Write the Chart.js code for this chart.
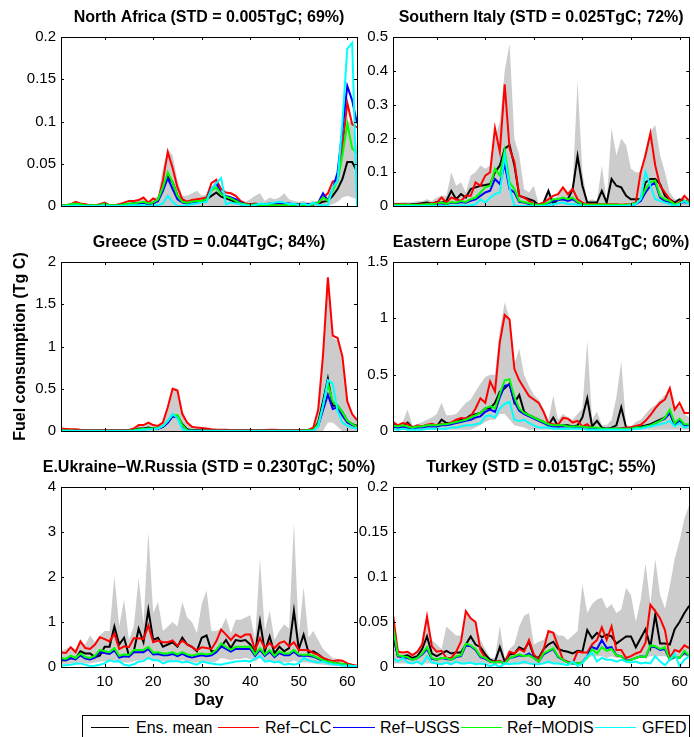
<!DOCTYPE html>
<html>
<head>
<meta charset="utf-8">
<title>Fuel consumption by region</title>
<script src="https://cdn.jsdelivr.net/npm/chart.js@4.4.1/dist/chart.umd.min.js"></script>
<style>
  body { margin: 0; background: #fff; width: 694px; height: 737px; overflow: hidden; position: relative;
         font-family: "Liberation Sans", Arial, Helvetica, sans-serif; }
  canvas { position: absolute; }
  #legend { position: absolute; left: 82px; top: 715px; width: 608px; height: 40px; border: 1px solid #000; box-sizing: border-box; background: #fff; }
  #legend .ln { position: absolute; top: 11px; height: 1px; }
  #legend .lt { position: absolute; top: 3px; font-size: 16px; line-height: 18px; color: #000; white-space: nowrap; }
</style>
</head>
<body>
<canvas id="na" width="390" height="220" style="left:0;top:0"></canvas>
<canvas id="gr" width="390" height="220" style="left:0;top:225px"></canvas>
<canvas id="ur" width="390" height="260" style="left:0;top:450px"></canvas>
<canvas id="si" width="349" height="220" style="left:345px;top:0"></canvas>
<canvas id="ee" width="349" height="220" style="left:345px;top:225px"></canvas>
<canvas id="tk" width="349" height="260" style="left:345px;top:450px"></canvas>

<div id="legend">
  <span class="ln" style="left:8px;width:38px;background:#000000"></span><span class="lt" style="left:53px">Ens. mean</span>
  <span class="ln" style="left:135px;width:41px;background:#ff0000"></span><span class="lt" style="left:182px">Ref−CLC</span>
  <span class="ln" style="left:250px;width:42px;background:#0000ff"></span><span class="lt" style="left:297px">Ref−USGS</span>
  <span class="ln" style="left:378px;width:41px;background:#00ff00"></span><span class="lt" style="left:424px">Ref−MODIS</span>
  <span class="ln" style="left:512px;width:41px;background:#00ffff"></span><span class="lt" style="left:559px">GFED</span>
</div>

<script>
// days of the simulation
const days = [1,2,3,4,5,6,7,8,9,10,11,12,13,14,15,16,17,18,19,20,21,22,23,24,25,26,27,28,29,30,
  31,32,33,34,35,36,37,38,39,40,41,42,43,44,45,46,47,48,49,50,51,52,53,54,55,56,57,58,59,60,61,62];
const xTicks = [10, 20, 30, 40, 50, 60];

// North Africa
const naBlack = [0.001,0.001,0.001,0.002,0.002,0.001,0.001,0.001,0.001,0.002,
  0.001,0.001,0.001,0.002,0.002,0.003,0.003,0.004,0.002,0.004,
  0.008,0.02,0.035,0.028,0.012,0.006,0.005,0.005,0.006,0.006,
  0.008,0.012,0.016,0.011,0.009,0.007,0.004,0.002,0.002,0.002,
  0.002,0.002,0.002,0.002,0.002,0.002,0.003,0.002,0.002,0.002,
  0.002,0.002,0.002,0.003,0.005,0.006,0.012,0.02,0.032,0.052,
  0.052,0.041];
const naRed = [0.001,0.001,0.002,0.005,0.003,0.002,0.001,0.001,0.002,0.004,
  0.001,0.001,0.002,0.004,0.006,0.006,0.007,0.01,0.004,0.009,
  0.006,0.03,0.064,0.045,0.022,0.008,0.005,0.007,0.008,0.009,
  0.01,0.027,0.031,0.02,0.016,0.015,0.012,0.006,0.003,0.002,
  0.003,0.002,0.002,0.002,0.001,0.002,0.002,0.002,0.001,0.002,
  0.002,0.002,0.002,0.003,0.01,0.015,0.029,0.03,0.07,0.122,
  0.097,0.093];
const naBlue = [0,0,0.001,0.002,0.001,0.001,0,0,0.001,0.002,
  0,0,0.001,0.002,0.002,0.003,0.003,0.004,0.002,0.003,
  0.006,0.018,0.033,0.02,0.008,0.004,0.003,0.004,0.005,0.005,
  0.008,0.02,0.027,0.015,0.012,0.01,0.008,0.004,0.002,0.001,
  0.002,0.001,0.002,0.003,0.003,0.004,0.003,0.003,0.002,0.002,
  0.002,0.002,0.002,0.004,0.015,0.006,0.02,0.04,0.09,0.142,
  0.125,0.098];
const naGreen = [0.001,0.001,0.002,0.003,0.002,0.001,0.001,0.001,0.001,0.003,
  0.001,0.001,0.001,0.002,0.003,0.003,0.004,0.005,0.003,0.004,
  0.008,0.022,0.04,0.028,0.012,0.005,0.004,0.005,0.006,0.006,
  0.008,0.018,0.022,0.014,0.011,0.009,0.006,0.003,0.002,0.001,
  0.002,0.001,0.001,0.001,0.001,0.001,0.001,0.001,0.001,0.002,
  0.001,0.001,0.002,0.004,0.01,0.006,0.018,0.03,0.06,0.098,
  0.068,0.063];
const naCyan = [0,0,0,0.001,0,0,0,0,0,0.001,
  0,0,0,0,0.001,0.001,0.001,0.001,0,0.001,
  0.001,0.003,0.012,0.005,0,0,0.001,0.002,0.003,0.004,
  0.005,0.02,0.027,0.033,0.002,0.004,0.003,0.002,0.001,0,
  0.001,0.003,0.002,0.003,0.004,0.005,0.004,0.002,0.003,0.001,
  0.003,0.001,0.004,0.001,0.001,0.001,0.022,0.03,0.1,0.186,
  0.193,0];
const naMax = [0.002,0.002,0.003,0.005,0.003,0.002,0.002,0.002,0.002,0.004,
  0.002,0.002,0.002,0.004,0.006,0.006,0.007,0.01,0.005,0.009,
  0.012,0.045,0.067,0.06,0.03,0.012,0.012,0.015,0.018,0.012,
  0.014,0.02,0.025,0.018,0.013,0.012,0.008,0.006,0.005,0.008,
  0.012,0.015,0.006,0.01,0.008,0.01,0.015,0.008,0.006,0.005,
  0.006,0.004,0.006,0.006,0.012,0.012,0.025,0.035,0.06,0.1,
  0.1,0.07];
const naMin = [0,0,0,0,0,0,0,0,0,0, 0,0,0,0,0,0,0,0,0,0, 0,0,0,0,0,0,0,0,0,0,
  0,0,0,0,0,0,0,0,0,0, 0,0,0,0,0,0,0,0,0,0,
  0,0,0,0,0,0,0.002,0.005,0.01,0.012,
  0.01,0.008];

// Southern Italy
const siBlack = [0.005,0.006,0.005,0.004,0.005,0.006,0.008,0.01,0.007,0.012,
  0.01,0.015,0.045,0.02,0.035,0.025,0.05,0.055,0.06,0.062,
  0.065,0.1,0.12,0.17,0.18,0.12,0.03,0.025,0.02,0.015,
  0.002,0.01,0.045,0.005,0.02,0.02,0.02,0.05,0.148,0.06,
  0.01,0.01,0.01,0.045,0.01,0.08,0.06,0.055,0.03,0.02,
  0.02,0.02,0.07,0.08,0.08,0.065,0.03,0.02,0.01,0.02,
  0.015,0.01];
const siRed = [0.005,0.005,0.006,0.004,0.003,0.004,0.005,0.006,0.008,0.01,
  0.025,0.01,0.025,0.02,0.015,0.03,0.03,0.07,0.06,0.09,
  0.1,0.23,0.16,0.36,0.17,0.13,0.03,0.025,0.015,0.005,
  0.005,0.01,0.02,0.03,0.035,0.055,0.035,0.05,0.02,0.01,
  0.005,0.005,0.006,0.006,0.005,0.005,0.005,0.004,0.005,0.005,
  0.01,0.1,0.15,0.215,0.12,0.06,0.04,0.02,0.005,0.01,
  0.03,0.015];
const siBlue = [0.003,0.003,0.003,0.002,0.002,0.003,0.003,0.004,0.004,0.006,
  0.008,0.005,0.01,0.008,0.012,0.01,0.015,0.02,0.03,0.04,
  0.045,0.08,0.065,0.125,0.05,0.04,0.012,0.01,0.006,0.004,
  0.002,0.004,0.008,0.015,0.018,0.02,0.015,0.02,0.01,0.005,
  0.003,0.003,0.003,0.004,0.003,0.003,0.003,0.003,0.003,0.004,
  0.006,0.015,0.04,0.06,0.07,0.025,0.015,0.012,0.004,0.006,
  0.012,0.008];
const siGreen = [0.004,0.004,0.004,0.003,0.003,0.003,0.004,0.005,0.005,0.007,
  0.01,0.006,0.012,0.01,0.015,0.012,0.02,0.025,0.04,0.055,
  0.06,0.11,0.09,0.165,0.07,0.05,0.015,0.012,0.008,0.005,
  0.003,0.005,0.01,0.02,0.02,0.025,0.02,0.025,0.012,0.006,
  0.004,0.004,0.004,0.005,0.004,0.004,0.004,0.003,0.004,0.005,
  0.008,0.02,0.05,0.07,0.075,0.03,0.02,0.015,0.005,0.008,
  0.015,0.01];
const siCyan = [0,0,0,0,0,0,0,0.001,0,0.001,
  0,0,0.001,0,0.002,0.001,0.002,0.005,0.02,0.01,
  0.025,0.035,0.04,0.15,0.055,0,0,0,0,0,
  0,0,0.002,0.005,0.008,0.01,0.005,0.006,0.003,0.001,
  0,0,0,0,0,0,0,0,0.001,0.002,
  0.005,0.02,0.1,0.06,0.02,0.015,0.01,0.005,0,0.005,
  0.015,0.005];
const siMax = [0.01,0.01,0.01,0.012,0.01,0.015,0.015,0.02,0.015,0.025,
  0.03,0.03,0.1,0.06,0.07,0.04,0.09,0.1,0.12,0.11,
  0.12,0.2,0.25,0.4,0.48,0.2,0.15,0.05,0.04,0.06,
  0.005,0.01,0.045,0.02,0.03,0.06,0.04,0.06,0.37,0.1,
  0.015,0.02,0.015,0.12,0.015,0.23,0.15,0.2,0.18,0.11,
  0.1,0.1,0.17,0.22,0.24,0.15,0.1,0.04,0.02,0.02,
  0.025,0.015];
const siMin = [0,0,0,0,0,0,0,0,0,0, 0,0,0,0,0,0,0,0,0,0, 0,0,0,0,0,0,0,0,0,0,
  0,0,0,0,0,0,0,0,0,0, 0,0,0,0,0,0,0,0,0,0, 0,0,0,0,0,0,0,0,0,0, 0,0];

// Greece
const grBlack = [0.005,0.005,0.005,0.005,0.005,0.005,0.005,0.005,0.005,0.005,
  0.005,0.005,0.005,0.005,0.005,0.01,0.03,0.03,0.04,0.03,
  0.03,0.05,0.1,0.19,0.18,0.08,0.02,0.01,0.008,0.006,
  0.005,0.005,0.005,0.005,0.005,0.005,0.005,0.005,0.005,0.005,
  0.005,0.005,0.005,0.005,0.005,0.005,0.005,0.005,0.005,0.005,
  0.005,0.006,0.01,0.1,0.35,0.62,0.3,0.3,0.22,0.12,
  0.08,0.06];
const grRed = [0.03,0.025,0.02,0.02,0.015,0.012,0.01,0.01,0.01,0.01,
  0.01,0.01,0.01,0.01,0.012,0.03,0.07,0.07,0.1,0.07,
  0.06,0.1,0.28,0.5,0.48,0.2,0.1,0.05,0.04,0.035,
  0.03,0.02,0.015,0.015,0.015,0.012,0.012,0.012,0.012,0.012,
  0.01,0.01,0.012,0.015,0.015,0.012,0.01,0.01,0.012,0.012,
  0.012,0.015,0.04,0.25,0.9,1.82,1.13,1.1,0.88,0.35,
  0.2,0.13];
const grBlue = [0.004,0.003,0.003,0.002,0.002,0.002,0.002,0.002,0.002,0.002,
  0.002,0.002,0.002,0.002,0.003,0.006,0.015,0.02,0.025,0.025,
  0.03,0.05,0.1,0.17,0.16,0.06,0.008,0.004,0.003,0.003,
  0.003,0.003,0.003,0.003,0.003,0.003,0.003,0.003,0.003,0.003,
  0.003,0.003,0.003,0.003,0.003,0.003,0.003,0.003,0.003,0.003,
  0.004,0.006,0.008,0.06,0.25,0.43,0.26,0.28,0.18,0.1,
  0.07,0.05];
const grGreen = [0.008,0.006,0.005,0.004,0.004,0.004,0.004,0.004,0.004,0.004,
  0.004,0.004,0.004,0.004,0.005,0.008,0.02,0.025,0.03,0.03,
  0.035,0.06,0.12,0.19,0.19,0.07,0.01,0.005,0.004,0.004,
  0.004,0.004,0.004,0.004,0.004,0.004,0.004,0.004,0.004,0.004,
  0.004,0.004,0.004,0.004,0.004,0.004,0.004,0.004,0.004,0.004,
  0.006,0.008,0.01,0.08,0.3,0.56,0.35,0.3,0.22,0.12,
  0.08,0.05];
const grCyan = [0.002,0.001,0,0,0,0,0,0,0,0,
  0,0,0,0,0,0.002,0.01,0.015,0.02,0.02,
  0.03,0.06,0.12,0.2,0.15,0.02,0,0,0,0,
  0,0,0,0,0,0,0,0,0,0,
  0,0,0,0,0,0,0,0,0,0,
  0,0,0.005,0.05,0.3,0.6,0.56,0.23,0.1,0.06,
  0.04,0.03];
const grMax = [0.03,0.025,0.02,0.02,0.015,0.012,0.01,0.01,0.01,0.01,
  0.01,0.01,0.01,0.01,0.012,0.03,0.06,0.07,0.09,0.07,
  0.06,0.1,0.3,0.52,0.5,0.25,0.1,0.05,0.04,0.035,
  0.03,0.02,0.015,0.015,0.015,0.012,0.012,0.012,0.012,0.012,
  0.01,0.01,0.012,0.015,0.015,0.012,0.01,0.01,0.012,0.012,
  0.012,0.015,0.04,0.25,0.9,1.78,1.1,1.07,0.85,0.35,
  0.2,0.13];
const grMin = [0,0,0,0,0,0,0,0,0,0, 0,0,0,0,0,0,0,0,0,0, 0,0,0,0,0,0,0,0,0,0,
  0,0,0,0,0,0,0,0,0,0, 0,0,0,0,0,0,0,0,0,0,
  0,0,0,0,0,0.1,0.1,0.05,0,0,
  0,0];

// Eastern Europe
const eeBlack = [0.06,0.04,0.04,0.075,0.03,0.04,0.04,0.05,0.05,0.04,
  0.1,0.07,0.07,0.08,0.1,0.11,0.14,0.15,0.16,0.2,
  0.2,0.25,0.35,0.38,0.42,0.25,0.32,0.17,0.14,0.12,
  0.1,0.08,0.05,0.12,0.04,0.05,0.05,0.04,0.05,0.12,
  0.29,0.04,0.09,0.03,0.02,0.03,0.05,0.21,0.03,0.02,
  0.03,0.04,0.05,0.06,0.08,0.1,0.12,0.16,0.06,0.1,
  0.05,0.05];
const eeRed = [0.08,0.05,0.07,0.06,0.03,0.05,0.04,0.055,0.065,0.05,
  0.065,0.06,0.075,0.1,0.116,0.11,0.13,0.2,0.29,0.25,
  0.44,0.35,0.79,1.03,0.99,0.55,0.45,0.38,0.31,0.28,
  0.25,0.17,0.066,0.06,0.055,0.116,0.11,0.075,0.09,0.04,
  0.06,0.02,0.02,0.02,0.02,0.02,0.02,0.025,0.03,0.033,
  0.045,0.055,0.09,0.14,0.2,0.25,0.28,0.38,0.19,0.25,
  0.16,0.16];
const eeBlue = [0.04,0.03,0.04,0.03,0.02,0.03,0.03,0.04,0.04,0.04,
  0.05,0.05,0.06,0.07,0.08,0.09,0.1,0.12,0.13,0.17,
  0.19,0.17,0.3,0.4,0.41,0.26,0.18,0.15,0.13,0.11,
  0.09,0.07,0.05,0.04,0.04,0.04,0.04,0.04,0.03,0.03,
  0.03,0.02,0.02,0.02,0.02,0.02,0.02,0.02,0.02,0.02,
  0.03,0.03,0.04,0.05,0.07,0.09,0.11,0.16,0.05,0.09,
  0.05,0.05];
const eeGreen = [0.05,0.04,0.05,0.04,0.03,0.04,0.04,0.05,0.05,0.05,
  0.06,0.06,0.07,0.08,0.09,0.1,0.12,0.14,0.16,0.2,
  0.22,0.2,0.33,0.45,0.46,0.3,0.2,0.16,0.14,0.12,
  0.1,0.08,0.06,0.05,0.05,0.05,0.04,0.04,0.04,0.04,
  0.03,0.03,0.03,0.02,0.02,0.02,0.02,0.02,0.02,0.02,
  0.03,0.03,0.04,0.05,0.07,0.09,0.12,0.19,0.07,0.11,
  0.06,0.06];
const eeCyan = [0.02,0.01,0.02,0.01,0.01,0.01,0.01,0.02,0.02,0.02,
  0.02,0.02,0.03,0.03,0.04,0.05,0.05,0.06,0.07,0.13,
  0.14,0.12,0.2,0.24,0.26,0.1,0.09,0.1,0.07,0.05,
  0.03,0.03,0.03,0.02,0.02,0.02,0.02,0.02,0.02,0.02,
  0.01,0.01,0.01,0.01,0.01,0.01,0.01,0.01,0.01,0.01,
  0.02,0.02,0.03,0.04,0.05,0.06,0.07,0.09,0.04,0.07,
  0.03,0.04];
const eeMax = [0.1,0.06,0.08,0.19,0.05,0.06,0.08,0.1,0.12,0.15,
  0.25,0.14,0.14,0.15,0.2,0.25,0.28,0.35,0.42,0.48,
  0.5,0.5,0.9,1.14,1.0,0.6,0.73,0.5,0.4,0.32,
  0.28,0.2,0.1,0.31,0.1,0.15,0.12,0.1,0.15,0.2,
  0.8,0.1,0.17,0.05,0.05,0.1,0.3,0.62,0.05,0.04,
  0.08,0.1,0.15,0.2,0.23,0.28,0.32,0.35,0.2,0.22,
  0.15,0.12];
const eeMin = [0.01,0.01,0.01,0.01,0.01,0.01,0.01,0.01,0.01,0.01,
  0.01,0.01,0.01,0.01,0.01,0.01,0.01,0.03,0.05,0.08,
  0.1,0.1,0.15,0.15,0.1,0.05,0.04,0.03,0.01,0.01,
  0.01,0.01,0.01,0.01,0.01,0.01,0.01,0.01,0.01,0.01,
  0.01,0.01,0.01,0.01,0.01,0.01,0.01,0.01,0.01,0.01,
  0.01,0.01,0.01,0.01,0.01,0.01,0.01,0.01,0.01,0.01,
  0.01,0.01];

// E.Ukraine - W.Russia
const urBlack = [0.15,0.15,0.2,0.18,0.35,0.3,0.3,0.22,0.25,0.45,
  0.45,0.9,0.5,0.65,0.25,0.35,0.85,0.55,1.27,0.6,
  0.65,0.45,0.5,0.55,0.45,0.65,0.5,0.45,0.35,0.65,
  0.7,0.35,0.35,0.45,0.6,0.42,0.6,0.58,0.6,0.5,
  0.32,1.02,0.35,0.68,0.3,0.45,0.35,0.42,1.25,0.4,
  0.72,0.32,0.35,0.28,0.2,0.12,0.1,0.08,0.06,0.05,
  0.03,0.02];
const urRed = [0.32,0.31,0.44,0.33,0.57,0.42,0.4,0.5,0.66,0.62,
  0.57,0.74,0.4,0.46,0.44,0.64,0.64,0.62,0.92,0.55,
  0.59,0.55,0.55,0.59,0.47,0.59,0.5,0.44,0.37,0.44,
  0.42,0.4,0.57,0.83,0.72,0.6,0.72,0.66,0.72,0.72,
  0.38,0.64,0.42,0.53,0.42,0.53,0.57,0.46,0.55,0.38,
  0.38,0.37,0.31,0.27,0.2,0.16,0.13,0.15,0.14,0.08,
  0.05,0.03];
const urBlue = [0.16,0.15,0.2,0.17,0.26,0.19,0.17,0.21,0.33,0.31,
  0.29,0.37,0.21,0.24,0.23,0.33,0.33,0.33,0.4,0.28,
  0.29,0.26,0.26,0.29,0.24,0.29,0.24,0.21,0.24,0.26,
  0.24,0.26,0.33,0.46,0.4,0.34,0.4,0.4,0.4,0.4,
  0.25,0.38,0.25,0.34,0.22,0.31,0.26,0.26,0.34,0.25,
  0.25,0.25,0.23,0.18,0.14,0.11,0.09,0.07,0.06,0.05,
  0.03,0.02];
const urGreen = [0.2,0.18,0.25,0.2,0.3,0.22,0.2,0.25,0.38,0.35,
  0.33,0.42,0.25,0.28,0.27,0.38,0.38,0.38,0.45,0.32,
  0.33,0.3,0.3,0.33,0.28,0.33,0.28,0.25,0.28,0.3,
  0.28,0.3,0.38,0.52,0.45,0.38,0.45,0.45,0.45,0.45,
  0.28,0.42,0.28,0.38,0.25,0.35,0.3,0.3,0.38,0.28,
  0.27,0.27,0.25,0.2,0.15,0.12,0.1,0.08,0.07,0.05,
  0.03,0.02];
const urCyan = [0.03,0.04,0.05,0.07,0.08,0.05,0.02,0.03,0.05,0.08,
  0.15,0.12,0.13,0.05,0.03,0.06,0.12,0.13,0.2,0.15,
  0.15,0.08,0.12,0.13,0.13,0.1,0.12,0.08,0.05,0.12,
  0.1,0.08,0.06,0.05,0.08,0.1,0.12,0.13,0.14,0.12,
  0.18,0.25,0.12,0.14,0.1,0.12,0.05,0.07,0.05,0.08,
  0.2,0.15,0.12,0.1,0.12,0.08,0.06,0.05,0.03,0.03,
  0.02,0.02];
const urMax = [0.35,0.4,0.45,0.4,0.55,0.5,0.7,0.55,0.7,0.8,
  0.8,2.02,0.9,1.5,0.6,0.9,1.98,0.95,3.0,1.2,
  1.45,0.8,0.9,1.0,0.9,1.45,1.1,1.0,0.75,1.4,
  1.7,0.8,0.8,0.85,1.1,0.75,1.05,1.05,1.1,1.15,
  0.6,2.4,0.8,1.25,0.6,0.8,0.95,0.85,3.2,0.7,
  1.78,0.65,0.8,0.6,0.4,0.3,0.2,0.18,0.15,0.1,
  0.06,0.05];
const urMin = [0.05,0.05,0.08,0.08,0.1,0.08,0.08,0.1,0.12,0.12,
  0.12,0.15,0.1,0.1,0.1,0.12,0.15,0.15,0.2,0.15,
  0.15,0.12,0.12,0.15,0.12,0.15,0.12,0.1,0.1,0.12,
  0.12,0.1,0.12,0.2,0.18,0.15,0.18,0.18,0.2,0.18,
  0.12,0.2,0.12,0.15,0.1,0.12,0.1,0.1,0.15,0.1,
  0.1,0.1,0.08,0.06,0.05,0.04,0.03,0.02,0.02,0.01,
  0.01,0.01];

// Turkey
const tkBlack = [0.035,0.012,0.012,0.013,0.01,0.012,0.02,0.034,0.015,0.012,
  0.015,0.018,0.015,0.016,0.016,0.025,0.034,0.025,0.022,0.014,
  0.008,0.006,0.022,0.006,0.014,0.015,0.022,0.019,0.028,0.012,
  0.01,0.02,0.025,0.028,0.02,0.018,0.017,0.015,0.018,0.017,
  0.041,0.032,0.038,0.033,0.036,0.034,0.026,0.03,0.034,0.034,
  0.022,0.032,0.042,0.022,0.058,0.026,0.026,0.025,0.042,0.05,
  0.06,0.068];
const tkRed = [0.058,0.017,0.016,0.017,0.013,0.017,0.025,0.056,0.023,0.017,
  0.018,0.01,0.01,0.017,0.028,0.062,0.054,0.05,0.019,0.01,
  0.006,0.006,0.007,0.004,0.017,0.015,0.02,0.017,0.03,0.014,
  0.008,0.019,0.04,0.038,0.023,0.008,0.006,0.004,0.017,0.016,
  0.016,0.025,0.03,0.044,0.03,0.045,0.019,0.019,0.01,0.012,
  0.015,0.017,0.027,0.069,0.062,0.054,0.041,0.01,0.019,0.017,
  0.024,0.021];
const tkBlue = [0.04,0.012,0.011,0.01,0.008,0.01,0.014,0.02,0.009,0.008,
  0.01,0.009,0.008,0.011,0.012,0.024,0.023,0.019,0.011,0.009,
  0.006,0.005,0.006,0.004,0.01,0.011,0.013,0.012,0.015,0.01,
  0.006,0.014,0.017,0.02,0.011,0.008,0.005,0.004,0.004,0.005,
  0.012,0.022,0.02,0.03,0.021,0.022,0.013,0.012,0.007,0.008,
  0.01,0.012,0.011,0.023,0.022,0.019,0.02,0.008,0.011,0.01,
  0.016,0.012];
const tkGreen = [0.045,0.013,0.012,0.011,0.008,0.01,0.015,0.022,0.01,0.008,
  0.01,0.01,0.008,0.012,0.013,0.026,0.024,0.02,0.012,0.01,
  0.006,0.005,0.006,0.004,0.01,0.012,0.014,0.012,0.013,0.01,
  0.006,0.015,0.018,0.021,0.012,0.008,0.005,0.004,0.004,0.005,
  0.01,0.02,0.015,0.022,0.018,0.02,0.013,0.012,0.006,0.008,
  0.01,0.012,0.011,0.024,0.023,0.02,0.022,0.008,0.012,0.01,
  0.018,0.012];
const tkCyan = [0.01,0.006,0.01,0.005,0.004,0.006,0.003,0.012,0.005,0.004,
  0.003,0.005,0.003,0.006,0.004,0.004,0.005,0.003,0.004,0.003,
  0.001,0.003,0,0.004,0.003,0.004,0.004,0.006,0.004,0.003,
  0.003,0.004,0.006,0.004,0.004,0.003,0.002,0.006,0.001,0.004,
  0.012,0.016,0.006,0.01,0.008,0.008,0.006,0.008,0.006,0.005,
  0.006,0.004,0.005,0.004,0.012,0.006,0.002,0.008,0.015,0.001,
  0.008,0.012];
const tkMax = [0.04,0.02,0.015,0.018,0.015,0.018,0.028,0.057,0.03,0.025,
  0.02,0.045,0.04,0.035,0.035,0.06,0.055,0.05,0.03,0.02,
  0.01,0.01,0.046,0.01,0.02,0.025,0.045,0.057,0.06,0.025,
  0.028,0.03,0.04,0.04,0.035,0.035,0.03,0.035,0.04,0.092,
  0.06,0.07,0.075,0.077,0.065,0.07,0.06,0.064,0.088,0.08,
  0.05,0.075,0.115,0.07,0.12,0.08,0.065,0.09,0.12,0.14,
  0.165,0.18];
const tkMin = [0.004,0.004,0.004,0.004,0.004,0.004,0.004,0.004,0.004,0.004,
  0.004,0.004,0.004,0.004,0.004,0.004,0.004,0.004,0.004,0.004,
  0.003,0.003,0.003,0.003,0.003,0.003,0.003,0.003,0.003,0.003,
  0.004,0.004,0.004,0.004,0.004,0.004,0.004,0.004,0.004,0.004,
  0.01,0.012,0.012,0.012,0.01,0.012,0.01,0.01,0.008,0.008,
  0.01,0.01,0.01,0.012,0.012,0.012,0.012,0.01,0.012,0.012,
  0.012,0.012];

const FONT = '"Liberation Sans", Arial, Helvetica, sans-serif';

// box round the axes, inward tick marks on all four sides, panel title
const framePlugin = {
  id: 'frame',
  afterDraw(chart, args, opts) {
    const { ctx, chartArea: a, scales: { x, y } } = chart;
    ctx.save();
    ctx.strokeStyle = '#000';
    ctx.lineWidth = 1;
    ctx.beginPath();
    x.ticks.forEach(t => {
      const px = Math.round(x.getPixelForValue(t.value)) + 0.5;
      ctx.moveTo(px, a.bottom); ctx.lineTo(px, a.bottom - 3);
      ctx.moveTo(px, a.top); ctx.lineTo(px, a.top + 3);
    });
    y.ticks.forEach(t => {
      const py = Math.round(y.getPixelForValue(t.value)) + 0.5;
      ctx.moveTo(a.left, py); ctx.lineTo(a.left + 3, py);
      ctx.moveTo(a.right, py); ctx.lineTo(a.right - 3, py);
    });
    ctx.stroke();
    ctx.strokeRect(Math.round(a.left) + 0.5, Math.round(a.top) + 0.5, Math.round(a.width), Math.round(a.height));
    ctx.fillStyle = '#000';
    ctx.font = 'bold 16px ' + FONT;
    ctx.textAlign = 'center';
    ctx.textBaseline = 'middle';
    ctx.fillText(opts.title, (a.left + a.right) / 2, a.top - 19);
    ctx.restore();
  }
};

function pts(arr) {
  return days.map((d, i) => ({ x: d, y: arr[i] }));
}

function series(label, arr, color, order) {
  return { label, data: pts(arr), borderColor: color, backgroundColor: color, borderWidth: 2,
           pointRadius: 0, fill: false, order };
}

function makePanel(id, p) {
  const bottomRow = p.bottomRow;
  const right = p.right;
  new Chart(document.getElementById(id), {
    type: 'line',
    data: {
      datasets: [
        { label: 'ensemble max', data: pts(p.max), borderColor: 'rgba(0,0,0,0)', borderWidth: 0,
          backgroundColor: '#cccccc', pointRadius: 0, fill: '+1', order: 10 },
        { label: 'ensemble min', data: pts(p.min), borderColor: 'rgba(0,0,0,0)', borderWidth: 0,
          pointRadius: 0, fill: false, order: 11 },
        series('Ens. mean', p.black, '#000000', 5),
        series('Ref−CLC', p.red, '#ff0000', 4),
        series('Ref−USGS', p.blue, '#0000ff', 3),
        series('Ref−MODIS', p.green, '#00ff00', 2),
        series('GFED', p.cyan, '#00ffff', 1)
      ]
    },
    options: {
      responsive: false,
      animation: false,
      devicePixelRatio: 1,
      events: [],
      layout: { padding: { top: 37, right: right ? 4 : 33, bottom: 0, left: 0 } },
      plugins: {
        legend: { display: false },
        tooltip: { enabled: false },
        frame: { title: p.title }
      },
      scales: {
        x: {
          type: 'linear', min: 1, max: 62,
          afterBuildTicks: s => { s.ticks = xTicks.map(v => ({ value: v })); },
          afterFit: s => { s.height = bottomRow ? 43 : 3; },
          grid: { display: false, drawTicks: false },
          border: { display: false },
          ticks: { display: bottomRow, color: '#000', font: { size: 15, family: FONT }, padding: 6,
                   maxRotation: 0, autoSkip: false },
          title: { display: bottomRow, text: 'Day', color: '#000',
                   font: { size: 16, weight: 'bold', family: FONT }, padding: { top: 0, bottom: 0 } }
        },
        y: {
          type: 'linear', min: 0, max: p.ymax,
          afterFit: s => { s.width = right ? 48 : 61; },
          grid: { display: false, drawTicks: false },
          border: { display: false },
          ticks: { stepSize: p.ystep, color: '#000', font: { size: 15, family: FONT }, padding: 5,
                   callback: v => String(+(+v).toFixed(3)) },
          title: { display: !!p.ytitle, text: p.ytitle || '', color: '#000',
                   font: { size: 16, weight: 'bold', family: FONT }, padding: { top: 11, bottom: 0 } }
        }
      }
    },
    plugins: [framePlugin]
  });
}

makePanel('na', { title: 'North Africa (STD = 0.005TgC; 69%)', ymax: 0.2, ystep: 0.05,
  black: naBlack, red: naRed, blue: naBlue, green: naGreen, cyan: naCyan, max: naMax, min: naMin });
makePanel('si', { title: 'Southern Italy (STD = 0.025TgC; 72%)', ymax: 0.5, ystep: 0.1, right: true,
  black: siBlack, red: siRed, blue: siBlue, green: siGreen, cyan: siCyan, max: siMax, min: siMin });
makePanel('gr', { title: 'Greece (STD = 0.044TgC; 84%)', ymax: 2, ystep: 0.5, ytitle: 'Fuel consumption (Tg C)',
  black: grBlack, red: grRed, blue: grBlue, green: grGreen, cyan: grCyan, max: grMax, min: grMin });
makePanel('ee', { title: 'Eastern Europe (STD = 0.064TgC; 60%)', ymax: 1.5, ystep: 0.5, right: true,
  black: eeBlack, red: eeRed, blue: eeBlue, green: eeGreen, cyan: eeCyan, max: eeMax, min: eeMin });
makePanel('ur', { title: 'E.Ukraine−W.Russia (STD = 0.230TgC; 50%)', ymax: 4, ystep: 1, bottomRow: true,
  black: urBlack, red: urRed, blue: urBlue, green: urGreen, cyan: urCyan, max: urMax, min: urMin });
makePanel('tk', { title: 'Turkey (STD = 0.015TgC; 55%)', ymax: 0.2, ystep: 0.05, right: true, bottomRow: true,
  black: tkBlack, red: tkRed, blue: tkBlue, green: tkGreen, cyan: tkCyan, max: tkMax, min: tkMin });
</script>
</body>
</html>
